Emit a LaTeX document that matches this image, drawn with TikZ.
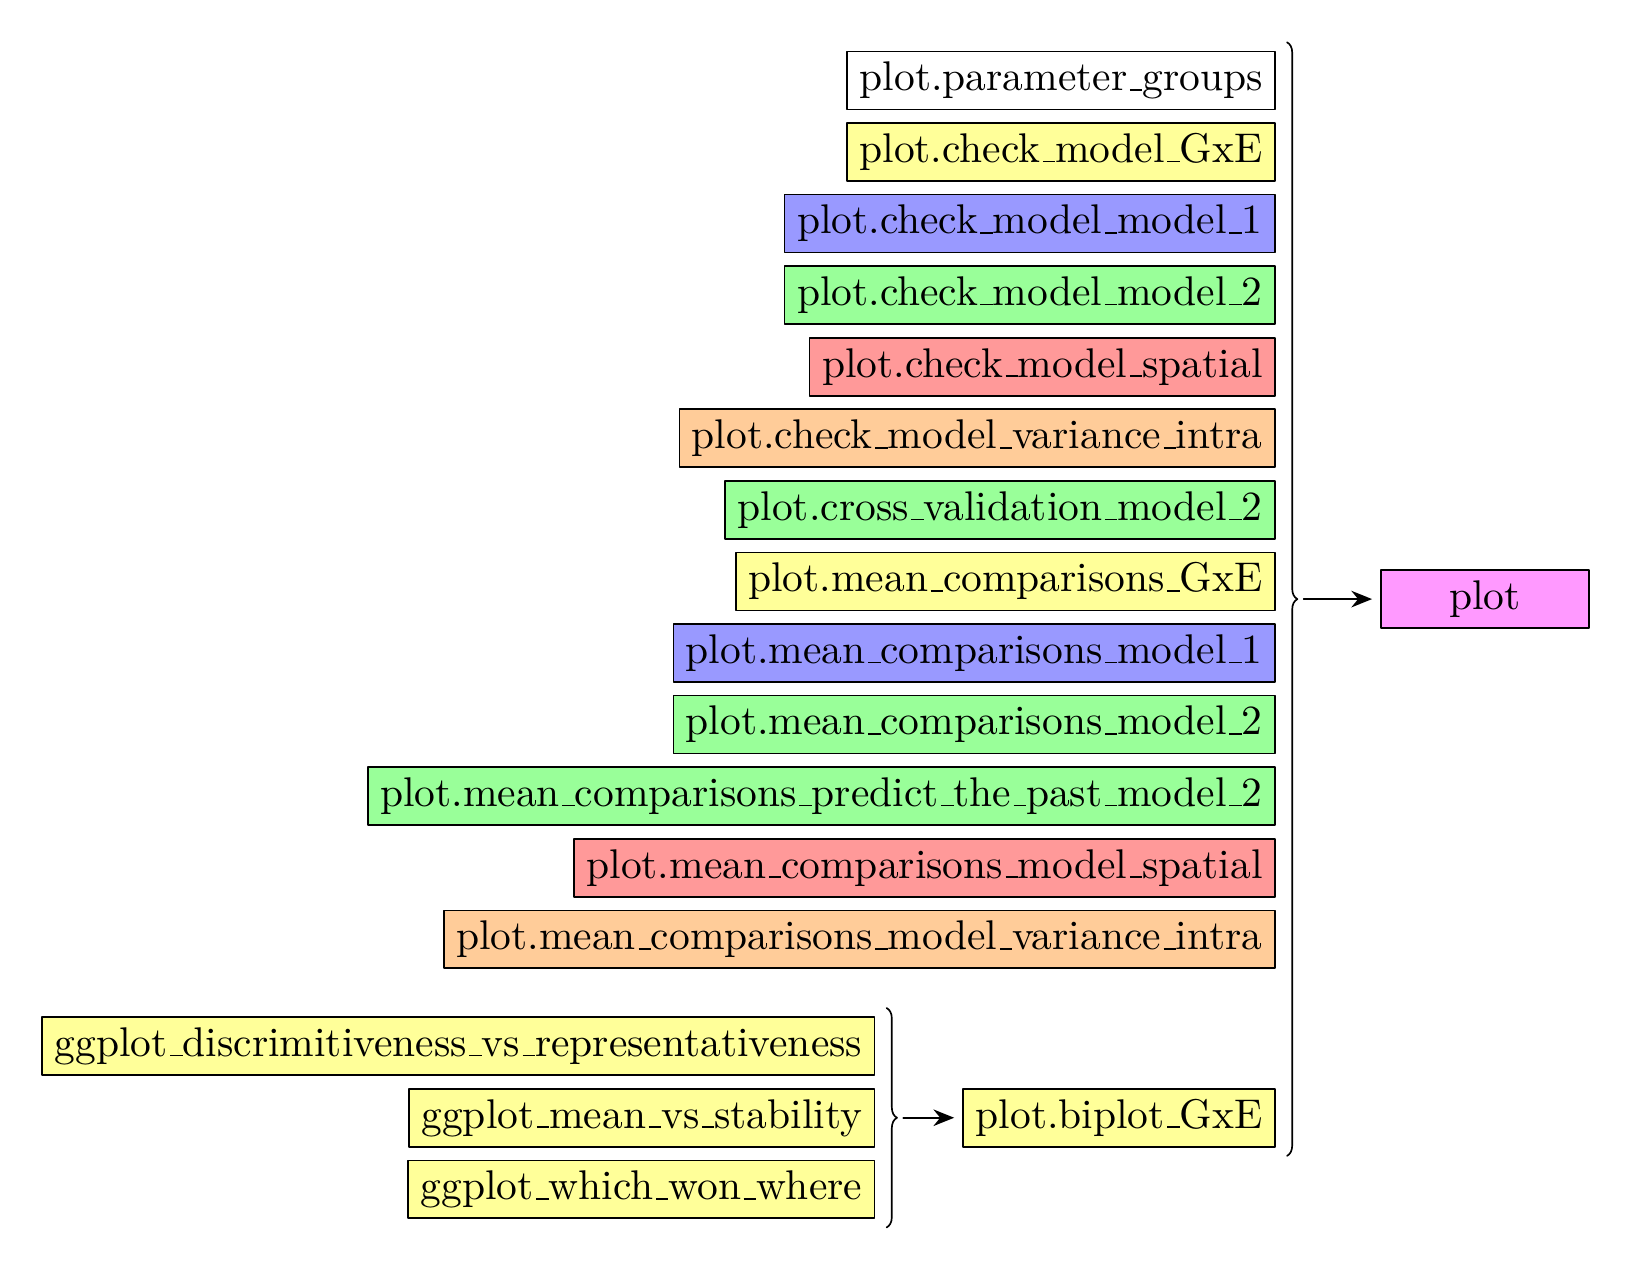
\documentclass[tikz,border=0pt]{standalone}
\usetikzlibrary{positioning,decorations.pathreplacing,arrows.meta}

\newcommand{\us}{\leavevmode\kern.06em\vbox{\hrule width.3em}}
\definecolor{fnyellow}{RGB}{255,255,153}
\definecolor{fnblue}{RGB}{153,153,255}
\definecolor{fngreen}{RGB}{153,255,153}
\definecolor{fnred}{RGB}{255,153,153}
\definecolor{fnorange}{RGB}{255,204,153}
\definecolor{fnpink}{RGB}{255,153,255}

\tikzset{
    fn/.style={draw, rectangle, inner sep=3pt, text height=1.5ex, text depth=0.35ex},
    grp/.style={decorate, decoration={brace, amplitude=2.5pt}},
    flow/.style={-{Stealth[length=5pt,width=4pt]}, shorten <=1.5pt, shorten >=2pt}
}

\begin{document}
\begin{tikzpicture}[line cap=round, line join=round]
    
    % layout (pt)
    \def\dy{17.25pt}  % row spacing
    \def\gx{-96.5pt}  % right edge of ggplot column
    \def\by{-250pt}   % biplot row
    
    % functions feeding plot (right aligned)
    \foreach \i/\col/\txt in {
        1/white/plot.parameter\us groups,
        2/fnyellow/plot.check\us model\us GxE,
        3/fnblue/plot.check\us model\us model\us 1,
        4/fngreen/plot.check\us model\us model\us 2,
        5/fnred/plot.check\us model\us spatial,
        6/fnorange/plot.check\us model\us variance\us intra,
        7/fngreen/plot.cross\us validation\us model\us 2,
        8/fnyellow/plot.mean\us comparisons\us GxE,
        9/fnblue/plot.mean\us comparisons\us model\us 1,
        10/fngreen/plot.mean\us comparisons\us model\us 2,
        11/fngreen/plot.mean\us comparisons\us predict\us the\us past\us model\us 2,
        12/fnred/plot.mean\us comparisons\us model\us spatial,
        13/fnorange/plot.mean\us comparisons\us model\us variance\us intra}
    {
        \node[fn, fill=\col, anchor=east] (f\i) at (0,{-(\i-1)*\dy}) {\txt};
    }
    
    % biplot and its ggplot inputs
    \node[fn, fill=fnyellow, anchor=east] (biplot) at (0,\by) {plot.biplot\us GxE};
    \node[fn, fill=fnyellow, anchor=east] (g2) at (\gx,\by) {ggplot\us mean\us vs\us stability};
    \node[fn, fill=fnyellow, anchor=east] (g1) at ([yshift=\dy]g2.east) {ggplot\us discrimitiveness\us vs\us representativeness};
    \node[fn, fill=fnyellow, anchor=east] (g3) at ([yshift=-\dy]g2.east) {ggplot\us which\us won\us where};
    
    % braces
    \draw[grp] ([shift={(2.7pt,2pt)}]g1.north east) -- coordinate[xshift=2.5pt] (gtip) ([shift={(2.7pt,-2pt)}]g3.south east);
    \draw[grp] ([shift={(2.7pt,2pt)}]f1.north east) -- coordinate[xshift=2.5pt] (ftip) ([shift={(2.7pt,-2pt)}]biplot.south east);
    
    % target
    \node[fn, fill=fnpink, minimum width=50pt, right=20pt of ftip] (plot) {plot};
    
    % arrows
    \draw[flow] (gtip) -- (biplot);
    \draw[flow] (ftip) -- (plot);
    
    % margins
    \path ([shift={(-10pt,-10pt)}]current bounding box.south west) rectangle ([shift={(10pt,10pt)}]current bounding box.north east);
    
\end{tikzpicture}
\end{document}
